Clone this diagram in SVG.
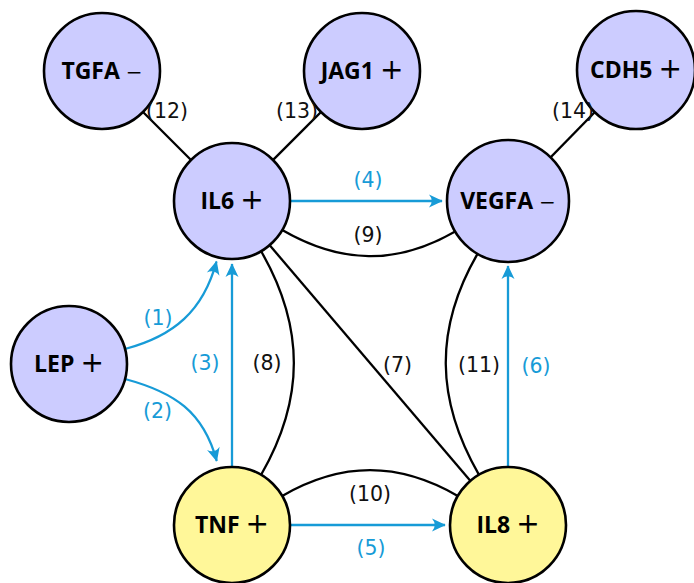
<svg xmlns="http://www.w3.org/2000/svg" width="694" height="583" viewBox="0 0 694 583">
<style>
  .nb { fill: #ccccff; stroke: #000; stroke-width: 2.6; }
  .ny { fill: #fff799; stroke: #000; stroke-width: 2.6; }
  .nt { font-family: "Open Sans", "DejaVu Sans", sans-serif; font-weight: bold; font-size: 23px; fill: #000; text-anchor: middle; }
  .pl { font-family: "DejaVu Sans", sans-serif; font-weight: normal; font-size: 28px; }
  .mi { font-family: "DejaVu Sans", sans-serif; font-weight: normal; font-size: 20px; }
  .ek { fill: none; stroke: #000; stroke-width: 2.3; }
  .eb { fill: none; stroke: #179bd7; stroke-width: 2.3; marker-end: url(#arr); }
  .lk { font-family: "DejaVu Sans", sans-serif; font-size: 20.5px; fill: #111; text-anchor: middle; }
  .lb { font-family: "DejaVu Sans", sans-serif; font-size: 20.5px; fill: #179bd7; text-anchor: middle; }
</style>
<defs>
  <marker id="arr" viewBox="-15 -8 16 16" refX="0" refY="0" markerWidth="16" markerHeight="16" orient="auto" markerUnits="userSpaceOnUse">
    <path d="M0.8,0 L-13,-6.5 Q-7.5,0 -13,6.5 Z" fill="#179bd7"/>
  </marker>
</defs>
<rect width="694" height="583" fill="#fff"/>
<g id="connectors">
  <line class="ek" x1="102" y1="71" x2="232" y2="201"/>
  <line class="ek" x1="362" y1="71" x2="232" y2="201"/>
  <line class="ek" x1="636" y1="70" x2="508" y2="201"/>
  <line class="ek" x1="232" y1="201" x2="508" y2="525"/>
  <path class="ek" d="M261,251 C304.8,327 304.8,399 261,475"/>
  <path class="ek" d="M282.2,230 C340.8,263.9 396.6,265.4 455.2,231.5"/>
  <path class="ek" d="M282.2,496 C341.7,461.6 398.3,461.6 457.8,496"/>
  <path class="ek" d="M477.5,253.8 C434.2,328.7 435.7,399.9 479,474.8"/>
  <path class="eb" d="M290,201 H442"/>
  <path class="eb" d="M290,525 H445"/>
  <path class="eb" d="M508,467 V266"/>
  <path class="eb" d="M232,467 V264"/>
  <path class="eb" d="M125,349 C174,336 203.3,310.8 216.5,261.5"/>
  <path class="eb" d="M125,379 C174.3,392.2 203.5,411.7 216.7,461"/>
</g>
<g id="node-TGFA"><circle class="nb" cx="102" cy="71" r="58"/><text class="nt" x="102" y="79">TGFA <tspan class="mi">−</tspan></text></g>
<g id="node-JAG1"><circle class="nb" cx="362" cy="71" r="58"/><text class="nt" x="362" y="79">JAG1 <tspan class="pl">+</tspan></text></g>
<g id="node-CDH5"><circle class="nb" cx="636" cy="70" r="59"/><text class="nt" x="636" y="78">CDH5 <tspan class="pl">+</tspan></text></g>
<g id="node-IL6"><circle class="nb" cx="232" cy="201" r="58"/><text class="nt" x="232" y="209">IL6 <tspan class="pl">+</tspan></text></g>
<g id="node-VEGFA"><circle class="nb" cx="508" cy="201" r="61"/><text class="nt" x="508" y="209">VEGFA <tspan class="mi">−</tspan></text></g>
<g id="node-LEP"><circle class="nb" cx="69" cy="364" r="58"/><text class="nt" x="69" y="372">LEP <tspan class="pl">+</tspan></text></g>
<g id="node-TNF"><circle class="ny" cx="232" cy="525" r="58"/><text class="nt" x="232" y="533">TNF <tspan class="pl">+</tspan></text></g>
<g id="node-IL8"><circle class="ny" cx="508" cy="525" r="58"/><text class="nt" x="508" y="533">IL8 <tspan class="pl">+</tspan></text></g>
<g id="labels">
  <text class="lk" x="167" y="118">(12)</text>
  <text class="lk" x="297" y="118">(13)</text>
  <text class="lk" x="573" y="118">(14)</text>
  <text class="lb" x="368" y="187">(4)</text>
  <text class="lk" x="368" y="242">(9)</text>
  <text class="lb" x="158" y="325">(1)</text>
  <text class="lb" x="205" y="370">(3)</text>
  <text class="lk" x="267" y="370">(8)</text>
  <text class="lb" x="157.5" y="418">(2)</text>
  <text class="lk" x="397.5" y="372">(7)</text>
  <text class="lk" x="479" y="372">(11)</text>
  <text class="lb" x="536" y="373">(6)</text>
  <text class="lk" x="370" y="501">(10)</text>
  <text class="lb" x="371" y="555">(5)</text>
</g>
</svg>
